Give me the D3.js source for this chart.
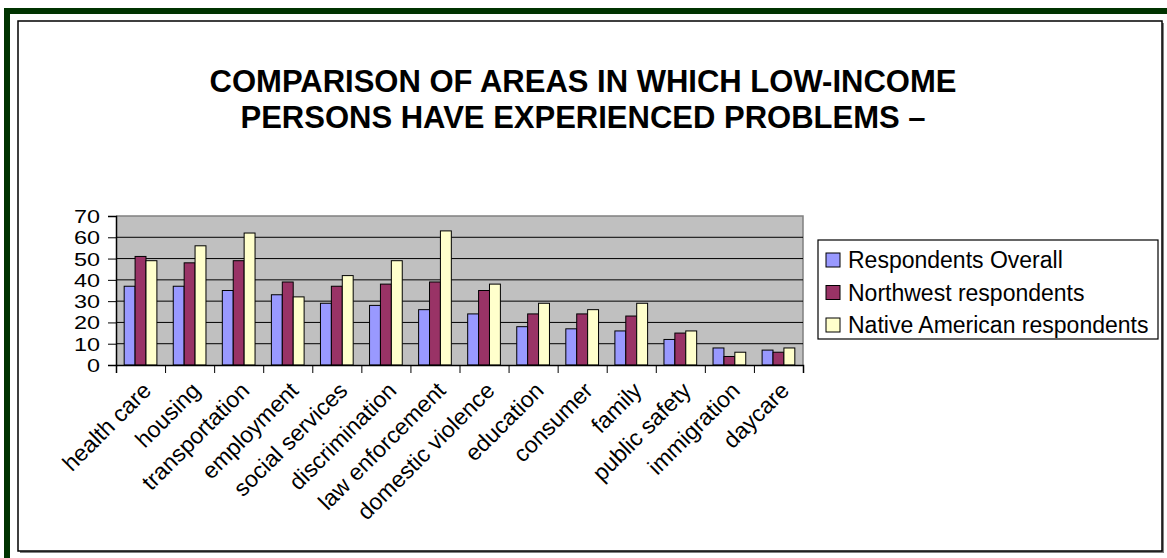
<!DOCTYPE html>
<html><head><meta charset="utf-8">
<script src="https://cdn.jsdelivr.net/npm/d3@7/dist/d3.min.js"></script>
<style>body{margin:0;background:#fff}svg{display:block}</style>
</head><body>
<svg id="c" width="1167" height="558"></svg>
<script>
const titleLines = ["COMPARISON OF AREAS IN WHICH LOW-INCOME", "PERSONS HAVE EXPERIENCED PROBLEMS \u2013"];
const categories = ["health care","housing","transportation","employment","social services","discrimination","law enforcement","domestic violence","education","consumer","family","public safety","immigration","daycare"];
const seriesNames = ["Respondents Overall","Northwest respondents","Native American respondents"];
const overall   = [37,37,35,33,29,28,26,24,18,17,16,12,8,7];
const northwest = [51,48,49,39,37,38,39,35,24,24,23,15,4,6];
const nativeAm  = [49,56,62,32,42,49,63,38,29,26,29,16,6,8];
const yTicks = [0,10,20,30,40,50,60,70];
const colors = ["#9999FF","#993366","#FFFFCC"];
const series = [overall, northwest, nativeAm];

const svg = d3.select("#c");
const FONT = "'Liberation Sans', Arial, sans-serif";

// outer green frame (top and left)
svg.append("rect").attr("x",4).attr("y",8).attr("width",1163).attr("height",6).attr("fill","#003300");
svg.append("rect").attr("x",4).attr("y",8).attr("width",6).attr("height",550).attr("fill","#003300");
// chart frame with shadow
svg.append("rect").attr("x",20).attr("y",23).attr("width",1144).attr("height",530).attr("fill","#808080");
svg.append("rect").attr("x",18).attr("y",21).attr("width",1144).attr("height",530).attr("fill","#fff").attr("stroke","#000").attr("stroke-width",1.5);

// title
svg.append("g").selectAll("text").data(titleLines).join("text")
  .attr("x",583).attr("y",(d,i)=>92+i*36)
  .attr("text-anchor","middle").attr("font-family",FONT).attr("font-weight","bold")
  .attr("font-size",31).attr("fill","#000").text(d=>d);

const L = 116, R = 803, T = 216, B = 365;
const x = d3.scaleBand().domain(categories).range([L,R]).paddingInner(0).paddingOuter(0);
const y = d3.scaleLinear().domain([0,70]).range([B,T]);
const bw = x.bandwidth();
const barW = bw/4.5;
const xs = d3.scaleBand().domain(d3.range(3)).range([bw*0.75/4.5, bw*0.75/4.5 + 3*barW]);

// plot area
svg.append("rect").attr("x",L).attr("y",T).attr("width",R-L).attr("height",B-T).attr("fill","#C0C0C0");
svg.append("path").attr("d",`M${L},${T}H${R}V${B}`).attr("fill","none").attr("stroke","#808080").attr("stroke-width",1.5);
// gridlines
svg.append("g").selectAll("line").data(yTicks.slice(1,-1)).join("line")
  .attr("x1",L).attr("x2",R).attr("y1",d=>y(d)).attr("y2",d=>y(d)).attr("stroke","#000").attr("stroke-width",1);

// bars
const g = svg.append("g");
series.forEach((vals,si)=>{
  g.append("g").selectAll("rect").data(vals).join("rect")
    .attr("x",(d,i)=>x(categories[i])+xs(si))
    .attr("y",d=>y(d))
    .attr("width",xs.bandwidth())
    .attr("height",d=>B-y(d))
    .attr("fill",colors[si]).attr("stroke","#000").attr("stroke-width",1);
});

// y axis
const SX = 1.3;
const yAxis = svg.append("g").attr("transform",`translate(${L},0)`)
  .call(d3.axisLeft(y).tickValues(yTicks).tickSize(8).tickPadding(0));
yAxis.select(".domain").attr("stroke","#000").attr("stroke-width",1.5);
yAxis.selectAll(".tick line").attr("stroke","#000");
yAxis.selectAll(".tick text").attr("font-family",FONT).attr("font-size",18).attr("fill","#000")
  .attr("x",-16/SX).attr("dy","0.36em").attr("transform",`scale(${SX},1)`);

// x axis: tick marks at band boundaries
const xb = d3.scaleLinear().domain([0,categories.length]).range([L,R]);
const xAxis = svg.append("g").attr("transform",`translate(0,${B})`)
  .call(d3.axisBottom(xb).tickValues(d3.range(categories.length+1)).tickSize(8).tickFormat(""));
xAxis.select(".domain").attr("stroke","#000").attr("stroke-width",1.5);
xAxis.selectAll(".tick line").attr("stroke","#000");
// category labels
const xLab = svg.append("g").attr("transform",`translate(0,${B})`)
  .call(d3.axisBottom(x).tickSize(0).tickPadding(0));
xLab.select(".domain").remove();
xLab.selectAll(".tick text").attr("font-family",FONT).attr("font-size",23).attr("fill","#000")
  .attr("y",0).attr("dy",0).attr("text-anchor","end")
  .attr("transform",`translate(12,27) rotate(-45)`);

// legend
const lx = 818, ly = 240, lw = 340, lh = 99;
svg.append("rect").attr("x",lx).attr("y",ly).attr("width",lw).attr("height",lh).attr("fill","#fff").attr("stroke","#000").attr("stroke-width",1.2);
const lg = svg.append("g").selectAll("g").data(seriesNames).join("g")
  .attr("transform",(d,i)=>`translate(${lx+8},${ly+20+i*32.5})`);
lg.append("rect").attr("x",0).attr("y",-7).attr("width",14).attr("height",14)
  .attr("fill",(d,i)=>colors[i]).attr("stroke","#000").attr("stroke-width",1);
lg.append("text").attr("x",22).attr("y",8)
  .attr("font-family",FONT).attr("font-size",23).attr("fill","#000").text(d=>d);
</script>
</body></html>
